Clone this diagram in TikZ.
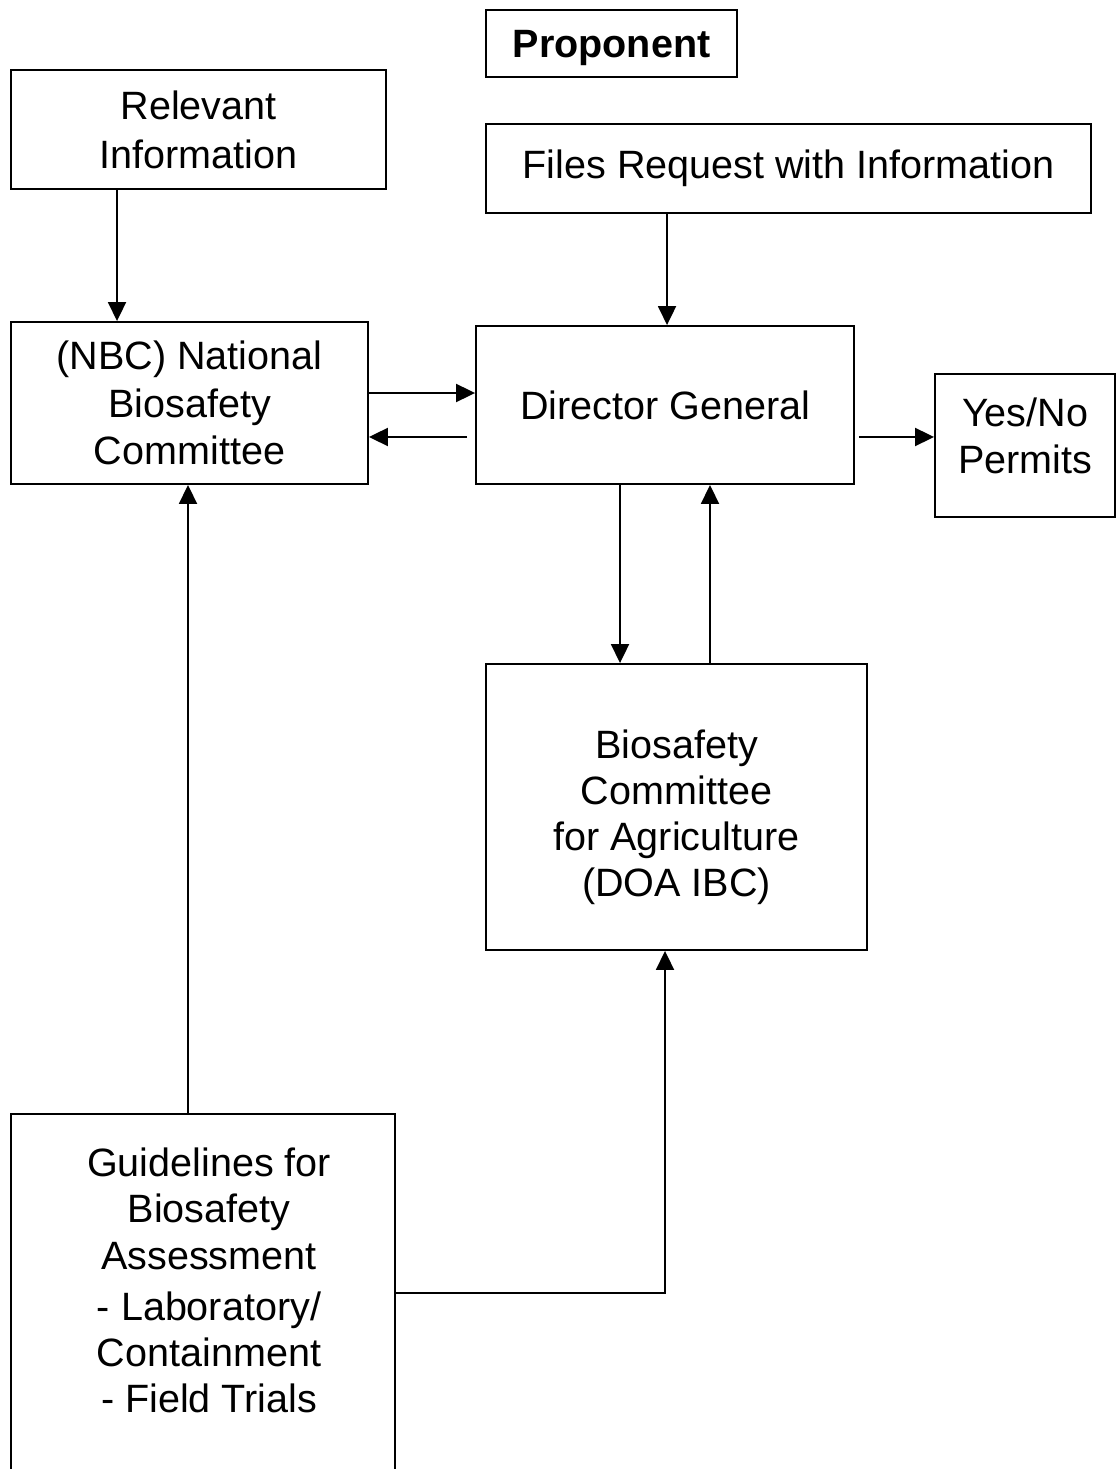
\documentclass[tikz,border=0pt]{standalone}
\usepackage{fontspec}
\setmainfont{Liberation Sans}
\usetikzlibrary{positioning, arrows.meta}

\begin{document}
\begin{tikzpicture}[x=0.02cm, y=-0.02cm,
        box/.style={draw, line width=1.1pt, inner sep=0pt, align=center,
            font=\fontsize{22.5}{27}\selectfont},
        arr/.style={-{Triangle[length=0.38cm, width=0.36cm]}, line width=1.1pt}]
            \clip (0, 0) rectangle (1117, 1469);

            \node [box, minimum width=5.02cm, minimum height=1.34cm, text depth=0pt, font=\fontsize{22.5}{27}\selectfont\bfseries] (prop) at (611.5, 43.5) {Proponent};
            \node [box, minimum width=7.5cm, minimum height=2.38cm, font=\fontsize{22.5}{28}\selectfont] (relinfo) at (198.5, 129.5) {Relevant\\Information};
            \node [box, minimum width=12.1cm, minimum height=1.78cm] (files) at (788.5, 168.5) {Files Request with Information};

            \node [box, minimum width=7.14cm, minimum height=3.24cm] (nbc) at (189.5, 403) {(NBC) National\\Biosafety\\Committee};
            \node [box, minimum width=7.56cm, minimum height=3.16cm] (dg) at (665, 405) {Director General};
            \node [box, minimum width=3.6cm, minimum height=2.86cm, text depth=0.4cm] (yesno) at (1025, 445.5) {Yes/No\\Permits};

            \node [box, minimum width=7.62cm, minimum height=5.72cm, text depth=-0.28cm, font=\fontsize{22.5}{26.3}\selectfont] (bca) at (676.5, 807) {\rule{0pt}{0.82cm}Biosafety\\Committee\\for Agriculture\\(DOA IBC)};
            \node [box, anchor=north, minimum width=7.68cm, inner ysep=0.68cm, text depth=4cm, font=\fontsize{22.5}{26.3}\selectfont] (guide) at (203, 1113) {\hspace*{0.24cm}Guidelines for\\\hspace*{0.24cm}Biosafety\\\hspace*{0.24cm}Assessment\\[0.1cm]\hspace*{0.24cm}- Laboratory/\\\hspace*{0.24cm}Containment\\\hspace*{0.24cm}- Field Trials};

            \draw [arr] ([xshift=-1.63cm]relinfo.south) coordinate (a1) -- (a1 |- nbc.north);
            \draw [arr] ([xshift=-2.43cm]files.south) coordinate (a2) -- (a2 |- dg.north);

            \draw [arr] ([yshift=0.2cm]nbc.east) coordinate (a3) -- (a3 -| dg.west);
            \draw [arr] ([xshift=-0.16cm, yshift=-0.64cm]dg.west) coordinate (a4) -- (a4 -| nbc.east);
            \draw [arr] ([xshift=0.08cm, yshift=-0.64cm]dg.east) coordinate (a5) -- (a5 -| yesno.west);

            \draw [arr] ([xshift=-0.9cm]dg.south) coordinate (a6) -- (a6 |- bca.north);
            \draw [arr] ([xshift=0.67cm]bca.north) coordinate (a7) -- (a7 |- dg.south);

            \draw [arr] ([xshift=-0.3cm]guide.north) coordinate (a8) -- (a8 |- nbc.south);
            \draw [arr] ([yshift=-3.6cm]guide.north east) -| ([xshift=-0.23cm]bca.south);
        \end{tikzpicture}
\end{document}
